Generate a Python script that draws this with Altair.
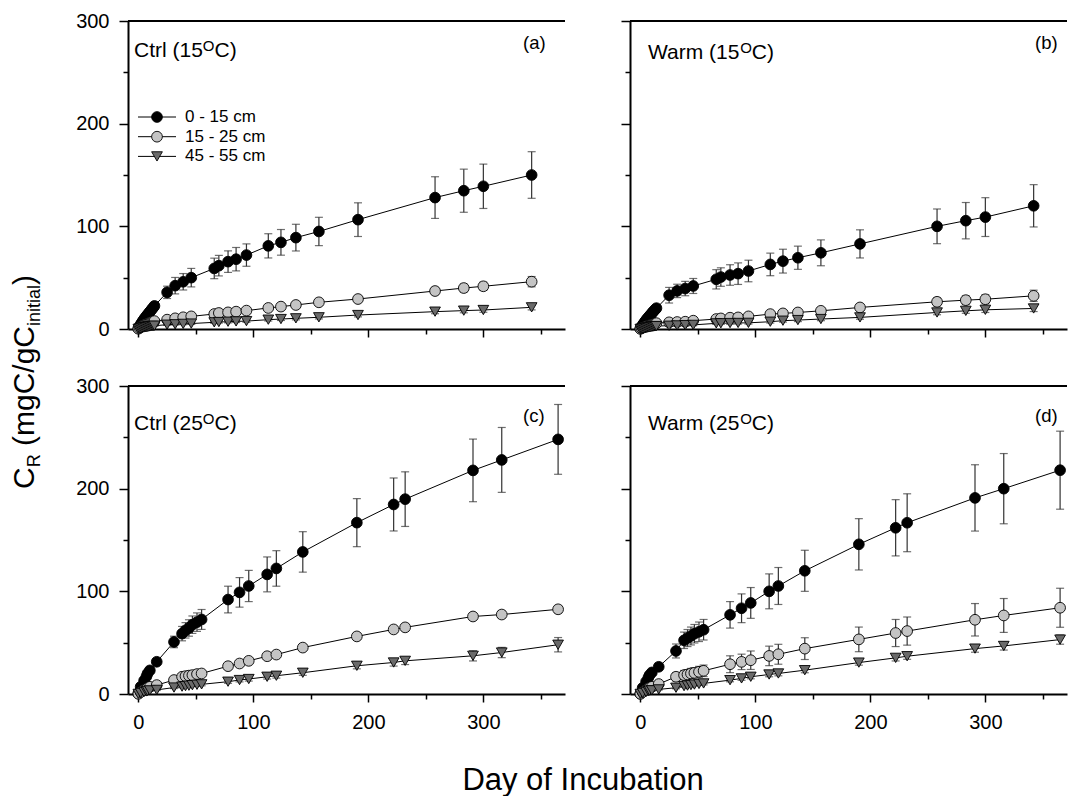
import altair as alt
import pandas as pd

# ---------------- data ----------------
SERIES = ["0 - 15 cm", "15 - 25 cm", "45 - 55 cm"]
FILLS = ["#000000", "#c4c4c4", "#6a6a6a"]
SHAPES = ["circle", "circle", "triangle-down"]

DAYS_AB = [0, 1, 2, 3, 4, 5, 6, 7, 8, 9, 10, 11, 12, 13, 14,
           25, 32, 39, 46, 66, 70, 78, 85, 94, 113, 124, 137, 157, 191, 258, 283, 300, 342]
DAYS_CD = [0, 2, 5, 7, 8, 10, 16, 31, 38, 41, 44, 47, 51, 55,
           78, 88, 96, 112, 120, 143, 190, 222, 232, 291, 316, 365]

# panel (a) Ctrl 15C
A_0_15 = [0.5, 2.5, 4.5, 6.3, 8, 9.6, 11.1, 12.6, 14, 15.4, 16.8, 18.2, 19.6, 21, 22.5,
          35.7, 42.2, 46, 50, 59, 61.7, 65.6, 68, 72, 81, 84.4, 89, 95, 106.5, 128, 134.7, 139, 150]
A_0_15_SE = [0.3, 0.5, 0.8, 1, 1.2, 1.4, 1.6, 1.8, 2, 2.2, 2.4, 2.6, 2.8, 3, 3.2,
             6, 8, 8, 9, 10, 10, 10.5, 11.4, 10.9, 11.8, 12.5, 13, 13.8, 16.4, 20.3, 21, 21.6, 22.7]
A_15_25 = [0.3, 1.2, 2, 2.8, 3.4, 4, 4.6, 5.1, 5.6, 6, 6.4, 6.8, 7.1, 7.4, 7.7,
           9.1, 10.4, 11.4, 12.3, 14.6, 15.6, 16.2, 16.9, 17.9, 20.5, 21.8, 23.4, 26, 29.2, 37, 39.9, 41.6, 46.1]
A_15_25_SE = [0.2, 0.2, 0.3, 0.3, 0.4, 0.4, 0.5, 0.5, 0.6, 0.6, 0.7, 0.7, 0.8, 0.8, 0.8,
              1.2, 1.3, 1.4, 1.5, 1.7, 1.8, 1.9, 2, 2, 2.2, 2.4, 2.6, 2.8, 3, 3.5, 3.8, 4, 5]
A_45_55 = [0.1, 0.4, 0.7, 1, 1.3, 1.5, 1.7, 1.9, 2.1, 2.3, 2.5, 2.7, 2.9, 3.0, 3.2,
           4.2, 4.6, 5, 5.3, 6.5, 6.8, 7.1, 7.4, 7.7, 9.1, 9.7, 10.4, 11.4, 13.6, 16.9, 17.9, 18.5, 21.1]
A_45_55_SE = [0.1, 0.1, 0.1, 0.2, 0.2, 0.2, 0.3, 0.3, 0.3, 0.3, 0.4, 0.4, 0.4, 0.4, 0.5,
              0.6, 0.7, 0.8, 0.8, 1, 1, 1.1, 1.1, 1.2, 1.3, 1.4, 1.5, 1.6, 1.8, 2, 2.1, 2.2, 2.5]

# panel (b) Warm 15C
B_0_15 = [0.4, 2.2, 4, 5.6, 7.2, 8.7, 10.1, 11.5, 12.8, 14.1, 15.4, 16.7, 17.9, 19.1, 20.3,
          32.9, 37.1, 39.4, 41.9, 48.4, 50.6, 52.6, 53.9, 56.5, 62.9, 66.1, 69.4, 74.2, 82.9, 100, 105.5, 109, 120]
B_0_15_SE = [0.3, 0.5, 0.8, 1, 1.2, 1.4, 1.6, 1.8, 2, 2.2, 2.4, 2.6, 2.8, 3, 3.2,
             7.6, 6.5, 7, 7.3, 9.4, 9, 10, 10.5, 10.5, 11, 11.6, 11.3, 12.6, 13.7, 16.9, 17.7, 18.9, 20.6]
B_15_25 = [0.2, 0.8, 1.3, 1.8, 2.3, 2.7, 3.1, 3.5, 3.9, 4.2, 4.5, 4.8, 5.1, 5.4, 5.7,
           6.5, 6.8, 7.1, 8.1, 9.7, 10.3, 11, 11.3, 12.3, 14.5, 15.2, 16.1, 17.7, 21, 26.5, 28.1, 29, 32.3]
B_15_25_SE = [0.1, 0.2, 0.2, 0.3, 0.3, 0.4, 0.4, 0.5, 0.5, 0.6, 0.6, 0.7, 0.7, 0.8, 0.8,
              1, 1.1, 1.2, 1.3, 1.5, 1.6, 1.7, 1.8, 1.9, 2.2, 2.4, 2.6, 2.8, 3.2, 4, 4.2, 4.4, 5.5]
B_45_55 = [0.1, 0.3, 0.5, 0.7, 0.9, 1.1, 1.3, 1.5, 1.7, 1.9, 2.1, 2.3, 2.5, 2.7, 2.9,
           3.2, 3.5, 3.8, 4, 5.5, 5.6, 5.8, 5.9, 6, 7.1, 8.1, 8.7, 9.7, 11.3, 16.1, 17.7, 18.7, 20]
B_45_55_SE = [0.1, 0.1, 0.1, 0.2, 0.2, 0.2, 0.3, 0.3, 0.3, 0.3, 0.4, 0.4, 0.4, 0.4, 0.5,
              0.6, 0.7, 0.8, 0.8, 1, 1, 1.1, 1.1, 1.2, 1.3, 1.4, 1.5, 1.6, 1.8, 2.2, 2.4, 2.6, 3]

# panel (c) Ctrl 25C
C_0_15 = [0.5, 7, 13, 17, 20, 23, 31.4, 50.7, 58.8, 62, 64.3, 67.5, 70, 72.6,
          92, 99, 105.2, 116.5, 122.3, 138.4, 166.9, 184.6, 189.8, 217.8, 228, 248]
C_0_15_SE = [0.2, 1, 1.5, 2, 2, 2.5, 3, 5.6, 7, 7.5, 8, 8.5, 9, 9.7,
             13, 14.4, 15.2, 17, 17.3, 19.7, 23.4, 25.8, 26.6, 30.5, 31.6, 34]
C_15_25 = [0.2, 2, 4, 5, 6, 7, 8.7, 13.6, 16.8, 17.4, 17.9, 18.4, 19.4, 20,
           27.1, 29.7, 32.3, 36.8, 38.4, 45.2, 56.1, 62.9, 64.9, 75.5, 77.4, 82.5]
C_15_25_SE = [0.1, 0.3, 0.5, 0.6, 0.7, 0.8, 1, 1.5, 1.6, 1.7, 1.8, 1.9, 2, 2,
              2.2, 2.3, 2.4, 2.5, 2.6, 2.8, 3, 3, 3.2, 3.2, 3.4, 3.6]
C_45_55 = [0.1, 1, 2, 2.5, 3, 3.5, 4, 6.3, 7.2, 7.7, 8.1, 8.6, 9, 9.4,
           12, 13.6, 14.6, 16.8, 17.8, 20.7, 27.5, 30.7, 32.3, 37.2, 40.4, 48]
C_45_55_SE = [0.1, 0.2, 0.3, 0.4, 0.4, 0.5, 0.6, 1, 1.2, 1.2, 1.3, 1.3, 1.4, 1.4,
              1.6, 1.8, 2, 2.2, 2.3, 2.5, 3, 3.5, 3.6, 5, 5, 7]

# panel (d) Warm 25C
D_0_15 = [0.3, 6, 12, 16, 18.4, 21, 26.5, 41.9, 52.3, 54.5, 56.5, 58.7, 60.6, 62.6,
          77.1, 83.5, 88.7, 100, 105.2, 120, 145.8, 161.9, 166.8, 191, 200, 218]
D_0_15_SE = [0.2, 1, 1.5, 2, 2.2, 2.5, 3.5, 6.8, 8, 8.3, 8.7, 9, 9.5, 10,
             12.9, 14, 15, 17, 18, 20, 25, 27.4, 28.2, 32.3, 34.2, 38]
D_15_25 = [0.2, 2, 4, 5.5, 6.2, 7, 9.7, 16.8, 18.4, 19, 20, 20.6, 21.6, 22.6,
           29, 31.3, 32.9, 37.1, 38.7, 44.2, 53.2, 59.4, 61.3, 72.3, 76.5, 84]
D_15_25_SE = [0.1, 0.5, 1, 1.2, 1.4, 1.6, 2, 4, 4.5, 4.7, 4.9, 5.1, 5.3, 5.6,
              8.2, 7.5, 9, 9.5, 9.7, 10.6, 12, 13.2, 13.7, 15.8, 16.5, 19]
D_45_55 = [0.1, 1, 2, 3, 3.3, 3.6, 4.5, 6.1, 7.7, 8.2, 8.7, 9.2, 9.8, 10.3,
           13.5, 15.2, 16.8, 19, 20, 23.2, 30.6, 35.2, 36.8, 44.2, 46.8, 53]
D_45_55_SE = [0.1, 0.2, 0.3, 0.4, 0.4, 0.5, 0.6, 1, 1.2, 1.2, 1.3, 1.3, 1.4, 1.4,
              1.6, 1.8, 2, 2.2, 2.3, 2.5, 2.5, 3, 3, 3.5, 4, 4.5]

PANEL_TAGS = ["(a)", "(b)", "(c)", "(d)"]
PANEL_TEXT = [("Ctrl (15", "O", "C)"), ("Warm (15", "O", "C)"),
              ("Ctrl (25", "O", "C)"), ("Warm (25", "O", "C)")]
X_TICKS = [0, 50, 100, 150, 200, 250, 300, 350]
Y_TICKS = [0, 50, 100, 150, 200, 250, 300]
X_TITLE = "Day of Incubation"
Y_TITLE = [("C", 0), ("R", 1), (" ", 0), ("(mgC/gC", 0), ("initial", 1), (")", 0)]

# ---------------- layout / style ----------------
FONT = "Liberation Sans"
W, H = 437, 308
XDOM = [-9, 371]
YDOM = [0, 300]
# intended page positions of the plot areas
PA_LEFT, PA_TOP = 129, 22
PB_LEFT = 631
PC_TOP = 387
HSPACE = PB_LEFT - (PA_LEFT + W)
VSPACE = PC_TOP - (PA_TOP + H)

ARIAL = {' ': 278, '(': 333, ')': 333, '/': 278, '-': 333, 'C': 722, 'D': 722,
         'I': 278, 'O': 778, 'R': 722, 'W': 944, 'a': 556, 'b': 556, 'c': 500,
         'f': 278, 'g': 556, 'i': 222, 'l': 222, 'm': 833, 'n': 556, 'o': 556,
         'r': 333, 't': 278, 'u': 556, 'y': 500}


def tw(s, size):
    return sum(ARIAL.get(ch, 556) for ch in s) / 1000.0 * size


ONE = pd.DataFrame({"k": [0]})


def txt(s, x, y, size, align="left", baseline="alphabetic", angle=0):
    kw = dict(text=s, font=FONT, fontSize=size, color="black", align=align, baseline=baseline)
    if angle:
        kw["angle"] = angle
    return alt.Chart(ONE).mark_text(**kw).encode(x=alt.value(x), y=alt.value(y))


def build_df(days, vals, errs):
    rows = []
    for si, name in enumerate(SERIES):
        for d, v, e in zip(days, vals[si], errs[si]):
            rows.append(dict(day=d, val=v, lo=v - e, hi=v + e, series=name, s=si))
    return pd.DataFrame(rows)


# per-panel text placement (plot-area pixels)
LABEL_X = [6, 18, 6, 18]
LABEL_Y = [36, 38, 44, 44]
TAG_X = [395, 405, 395, 405]
TAG_Y = [28, 28, 36, 36]


def y_title_layers():
    # rotated axis title with subscripts, placed relative to panel (a)'s origin
    out = []
    ypos = 490.0
    for s, sub in Y_TITLE:
        size = 18 if sub else 30
        if s.strip():
            xx = 35 + (6 if sub else 0) - PA_LEFT
            out.append(txt(s, xx, ypos - PA_TOP, size, angle=270))
        ypos -= tw(s, size)
    return out


def x_title_layers():
    # placed relative to panel (c)'s origin
    return [txt(X_TITLE, 584 - PA_LEFT, 791 - PC_TOP, 31, align="center")]


def panel(i, days, vals, errs, show_xlab, show_ylab, legend, extra=()):
    df = build_df(days, vals, errs)
    xs = alt.Scale(domain=XDOM, nice=False, zero=False)
    ys = alt.Scale(domain=YDOM, nice=False, zero=False)
    xaxis = alt.Axis(values=X_TICKS, title=None, grid=False, labels=show_xlab,
                     labelExpr="datum.value % 100 === 0 ? datum.label : ''",
                     tickSize={"condition": {"test": "datum.value % 100 === 0", "value": 8}, "value": 5},
                     labelPadding=10, labelFontSize=20, labelFont=FONT, labelColor="black",
                     domainColor="black", domainWidth=2, tickColor="black", tickWidth=1.5)
    yaxis = alt.Axis(values=Y_TICKS, title=None, grid=False, labels=show_ylab,
                     labelExpr="datum.value % 100 === 0 ? datum.label : ''",
                     tickSize={"condition": {"test": "datum.value % 100 === 0", "value": 9}, "value": 5},
                     labelPadding=10, labelFontSize=20, labelFont=FONT, labelColor="black",
                     domainColor="black", domainWidth=2, tickColor="black", tickWidth=1.5)
    X = alt.X("day:Q", scale=xs, axis=xaxis)
    base = alt.Chart(df)
    err = base.mark_errorbar(ticks=True, size=8, thickness=1.2, color="#333333").encode(
        x=X, y=alt.Y("lo:Q", scale=ys, axis=yaxis), y2="hi:Q")
    line = base.mark_line(color="black", strokeWidth=1).encode(
        x=X, y=alt.Y("val:Q", scale=ys, axis=yaxis), detail="series:N", order="day:Q")
    pts = base.mark_point(filled=True, size=115, stroke="black", strokeWidth=0.9, opacity=1).encode(
        x=X, y=alt.Y("val:Q", scale=ys, axis=yaxis),
        shape=alt.Shape("series:N", scale=alt.Scale(domain=SERIES, range=SHAPES), legend=None),
        fill=alt.Fill("series:N", scale=alt.Scale(domain=SERIES, range=FILLS), legend=None),
        order=alt.Order("s:Q"))
    top = alt.Chart(pd.DataFrame({"val": [YDOM[1]]})).mark_rule(color="black", strokeWidth=2).encode(
        y=alt.Y("val:Q", scale=ys, axis=yaxis))
    layers = [err, line, pts, top]
    main, sup, tail = PANEL_TEXT[i]
    x0, yb = LABEL_X[i], LABEL_Y[i]
    w1 = tw(main, 21)
    layers.append(txt(main, x0, yb, 21))
    layers.append(txt(sup, x0 + w1, yb - 6, 15))
    layers.append(txt(tail, x0 + w1 + tw(sup, 15), yb, 21))
    layers.append(txt(PANEL_TAGS[i], TAG_X[i], TAG_Y[i], 18.5))
    if legend:
        for k, name in enumerate(SERIES):
            ly = 96 + k * 19.7
            layers.append(alt.Chart(ONE).mark_rule(color="black", strokeWidth=1).encode(
                x=alt.value(10), x2=alt.value(48), y=alt.value(ly)))
            layers.append(alt.Chart(ONE).mark_point(filled=True, size=115, stroke="black",
                                                    strokeWidth=0.9, opacity=1).encode(
                x=alt.value(29), y=alt.value(ly), shape=alt.value(SHAPES[k]), fill=alt.value(FILLS[k])))
            layers.append(txt(name, 57, ly, 17, baseline="middle"))
    layers.extend(extra)
    return alt.layer(*layers).properties(width=W, height=H)


pa = panel(0, DAYS_AB, [A_0_15, A_15_25, A_45_55], [A_0_15_SE, A_15_25_SE, A_45_55_SE],
           False, True, True, extra=y_title_layers())
pb = panel(1, DAYS_AB, [B_0_15, B_15_25, B_45_55], [B_0_15_SE, B_15_25_SE, B_45_55_SE],
           False, False, False)
pc = panel(2, DAYS_CD, [C_0_15, C_15_25, C_45_55], [C_0_15_SE, C_15_25_SE, C_45_55_SE],
           True, True, False, extra=x_title_layers())
pd_ = panel(3, DAYS_CD, [D_0_15, D_15_25, D_45_55], [D_0_15_SE, D_15_25_SE, D_45_55_SE],
            True, False, False)

chart = alt.concat(pa, pb, pc, pd_, columns=2, bounds="flush",
                   spacing={"row": VSPACE, "column": HSPACE}).properties(
    padding={"left": 2, "top": 3, "right": 0, "bottom": 0}
).configure_view(stroke=None)

chart.save("out.html", embed_options={"renderer": "svg", "actions": False})
